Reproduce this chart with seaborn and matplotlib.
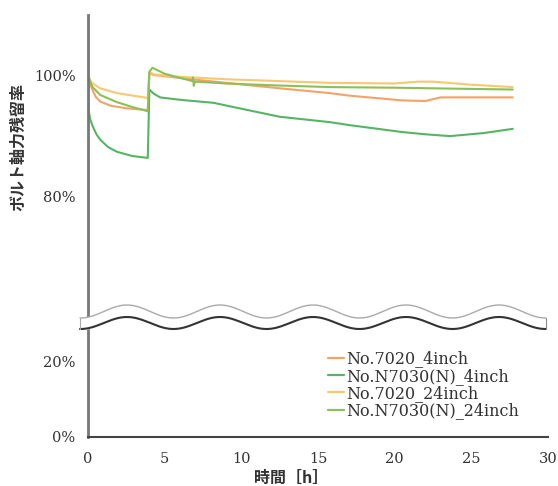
import numpy as np
import pandas as pd
import matplotlib
matplotlib.use("Agg")
import matplotlib.pyplot as plt
import seaborn as sns

# ---- data ----
series_names = ["No.7020_4inch", "No.N7030(N)_4inch", "No.7020_24inch", "No.N7030(N)_24inch"]
series_colors = ["#F4A368", "#55B564", "#F7C870", "#8CC056"]

t_7020_4 = [0, 0.15, 0.3, 0.5, 0.8, 1.5, 2.5, 3.9, 4.0, 4.3, 6, 9, 12.5, 15.8, 17, 20.5, 22, 23, 25, 27.7]
v_7020_4 = [100, 98.4, 97.5, 96.4, 95.6, 94.9, 94.5, 94.2, 100.3, 100.0, 99.5, 98.7, 97.8, 97.0, 96.6, 95.8, 95.7, 96.3, 96.3, 96.3]

t_n7030_4 = [0, 0.02, 0.15, 0.33, 0.55, 0.8, 1.3, 1.9, 2.9, 3.9, 4.0, 4.3, 4.7, 6.0, 8.2, 9.3, 12.5, 15.8, 17.1, 20.4, 22, 23.6, 25.8, 27.7]
v_n7030_4 = [100, 94.5, 92.6, 91.4, 90.2, 89.3, 88.1, 87.3, 86.6, 86.3, 97.6, 96.9, 96.3, 95.9, 95.4, 94.8, 93.1, 92.2, 91.7, 90.6, 90.2, 89.9, 90.4, 91.1]

t_7020_24 = [0, 0.15, 0.3, 0.8, 1.9, 2.9, 3.9, 4.0, 4.3, 6.0, 9, 15.8, 20, 21.5, 22.5, 23.5, 25, 27.7]
v_7020_24 = [100, 99.1, 98.6, 97.8, 97.0, 96.6, 96.2, 100.5, 100.1, 99.7, 99.3, 98.7, 98.6, 98.9, 98.9, 98.7, 98.4, 98.0]

t_n7030_24 = [0, 0.15, 0.3, 0.8, 1.9, 2.9, 3.9, 4.0, 4.2, 5, 6.8, 6.85, 6.9, 6.95, 7.0, 9, 12, 15.8, 20, 25, 27.7]
v_n7030_24 = [100, 98.8, 98.0, 96.7, 95.5, 94.7, 94.0, 100.5, 101.2, 100.2, 99.0, 99.6, 98.2, 98.9, 98.9, 98.6, 98.3, 98.0, 97.9, 97.7, 97.6]

x_ticks = [0, 5, 10, 15, 20, 25, 30]
upper_ticks = [80, 100]
lower_ticks = [0, 20]

frames = []
for name, t, v in zip(series_names,
                      [t_7020_4, t_n7030_4, t_7020_24, t_n7030_24],
                      [v_7020_4, v_n7030_4, v_7020_24, v_n7030_24]):
    frames.append(pd.DataFrame({"time": t, "value": v, "series": name}))
df = pd.concat(frames, ignore_index=True)
palette = dict(zip(series_names, series_colors))

# ---- figure ----
sns.set_style("white")
serif = ["DejaVu Serif"]
W, H = 558, 486
fig = plt.figure(figsize=(W / 100, H / 100), dpi=100)

left = 88 / W
right = 548 / W
y_top, y_break, y_bot = 15, 317, 437
ax_up = fig.add_axes([left, 1 - y_break / H, right - left, (y_break - y_top) / H])
ax_lo = fig.add_axes([left, 1 - y_bot / H, right - left, (y_bot - y_break) / H])

for ax in (ax_up, ax_lo):
    sns.lineplot(data=df, x="time", y="value", hue="series", palette=palette,
                 hue_order=series_names, ax=ax, linewidth=1.5, legend=False,
                 estimator=None, sort=False)
    ax.set_xlim(0, 30)
    ax.set_xlabel("")
    ax.set_ylabel("")
    for s in ["top", "right"]:
        ax.spines[s].set_visible(False)
    ax.spines["left"].set_color("#777777")
    ax.spines["left"].set_linewidth(2.0)
    ax.tick_params(direction="in", length=4, width=1.2, colors="#444444",
                   labelcolor="#333333", labelsize=10.5)
    ax.patch.set_alpha(0)

up_lo = 100 - (y_break - 75) / 6.05
up_hi = 100 + (75 - y_top) / 6.05
ax_up.set_ylim(up_lo, up_hi)
ax_up.spines["bottom"].set_visible(False)
ax_up.set_xticks([])
ax_up.set_yticks(upper_ticks)
ax_up.set_yticklabels([f"{v}%" for v in upper_ticks], fontfamily=serif)

ax_lo.set_ylim(0, (y_bot - y_break) / 3.8)
ax_lo.set_yticks(lower_ticks)
ax_lo.set_yticklabels([f"{v}%" for v in lower_ticks], fontfamily=serif)
ax_lo.set_xticks(x_ticks)
ax_lo.set_xticklabels([str(v) for v in x_ticks], fontfamily=serif)
ax_lo.spines["bottom"].set_color("#444444")
ax_lo.spines["bottom"].set_linewidth(1.5)
ax_lo.tick_params(axis="x", pad=11)
ax_lo.tick_params(axis="y", pad=9)
ax_up.tick_params(axis="y", pad=9)

# wavy break band in pixel coordinates
ov = fig.add_axes([0, 0, 1, 1])
ov.set_xlim(0, W)
ov.set_ylim(H, 0)
ov.axis("off")
xs = np.linspace(80, 546, 600)
phase = 2 * np.pi * (xs - 127) / 93.0
top_edge = 311.5 - 6.5 * np.cos(phase)
bot_edge = 323.0 - 6.0 * np.cos(phase)
ov.fill_between(xs, top_edge, bot_edge, color="white", zorder=5)
ov.plot(xs, top_edge, color="#AAAAAA", lw=1.0, zorder=6)
ov.plot(xs, bot_edge, color="#333333", lw=1.5, zorder=6)
ov.plot([xs[0], xs[0]], [top_edge[0], bot_edge[0]], color="#AAAAAA", lw=0.8, zorder=6)
ov.plot([xs[-1], xs[-1]], [top_edge[-1], bot_edge[-1]], color="#888888", lw=0.8, zorder=6)

# legend
from matplotlib.lines import Line2D
handles = [Line2D([0], [0], color=c, lw=1.6) for c in series_colors]
fig.legend(handles, series_names, loc="upper left",
           bbox_to_anchor=(322 / W, 1 - 344 / H), frameon=False,
           prop={"family": serif, "size": 11.5}, handlelength=1.0,
           handletextpad=0.1, labelspacing=0.02, borderaxespad=0,
           labelcolor="#333333")

# labels
jp = ["Noto Sans CJK JP", "DejaVu Sans"]
fig.text(18 / W, 1 - 147 / H, "ボルト軸力残留率", rotation=90, ha="center", va="center",
         fontsize=11.5, fontweight="bold", family=jp, color="#333333")
fig.text(291 / W, 1 - 478 / H, "時間［h］", ha="center", va="center",
         fontsize=11.5, fontweight="bold", family=jp, color="#333333")

fig.savefig("out.png", dpi=100)
